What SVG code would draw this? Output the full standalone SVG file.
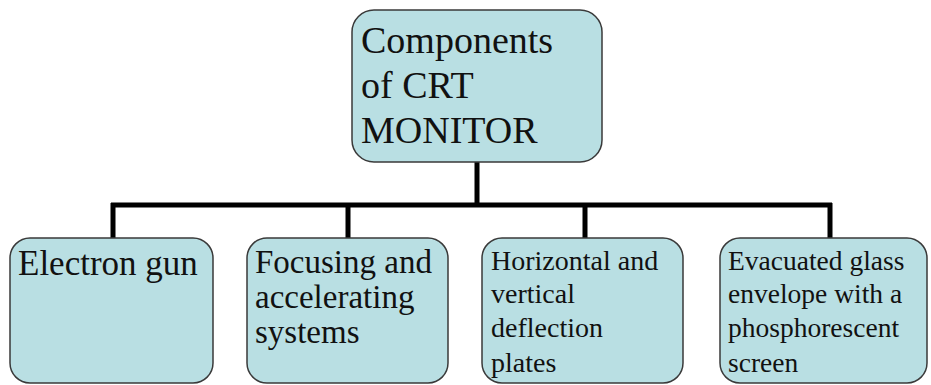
<svg xmlns="http://www.w3.org/2000/svg" width="931" height="385" viewBox="0 0 931 385">
<style>
.box{fill:#b9dfe3;stroke:#3a3a3a;stroke-width:1.5}
.t{font-family:"Liberation Serif","Times New Roman",Times,Tinos,"Noto Serif","DejaVu Serif",FreeSerif,serif;fill:#111}
.c{fill:none;stroke:#000;stroke-width:5}
</style>
<rect width="931" height="385" fill="#fff"/>
<g id="connectors">
<path class="c" d="M477 162V205M111 205H832M113 203V238M348 203V238M585 203V238M830 203V238"/>
</g>
<g id="root">
<rect class="box" x="352" y="10" width="250" height="152" rx="22"/>
<text class="t" font-size="38" x="361"><tspan x="361" y="53">Components</tspan><tspan x="361" y="98">of CRT</tspan><tspan x="361" y="143">MONITOR</tspan></text>
</g>
<g id="electron-gun">
<rect class="box" x="10" y="238" width="203" height="145" rx="20"/>
<text class="t" font-size="35" x="18" y="275">Electron gun</text>
</g>
<g id="focusing">
<rect class="box" x="247" y="238" width="201" height="145" rx="20"/>
<text class="t" font-size="33" x="255"><tspan x="255" y="273">Focusing and</tspan><tspan x="255" y="308">accelerating</tspan><tspan x="255" y="343">systems</tspan></text>
</g>
<g id="deflection">
<rect class="box" x="482" y="238" width="201" height="145" rx="20"/>
<text class="t" font-size="28" x="491"><tspan x="491" y="270">Horizontal and</tspan><tspan x="491" y="303">vertical</tspan><tspan x="491" y="337">deflection</tspan><tspan x="491" y="372">plates</tspan></text>
</g>
<g id="envelope">
<rect class="box" x="720" y="238" width="207" height="145" rx="20"/>
<text class="t" font-size="27.5" x="728"><tspan x="728" y="270">Evacuated glass</tspan><tspan x="728" y="303">envelope with a</tspan><tspan x="728" y="337">phosphorescent</tspan><tspan x="728" y="372">screen</tspan></text>
</g>
</svg>
